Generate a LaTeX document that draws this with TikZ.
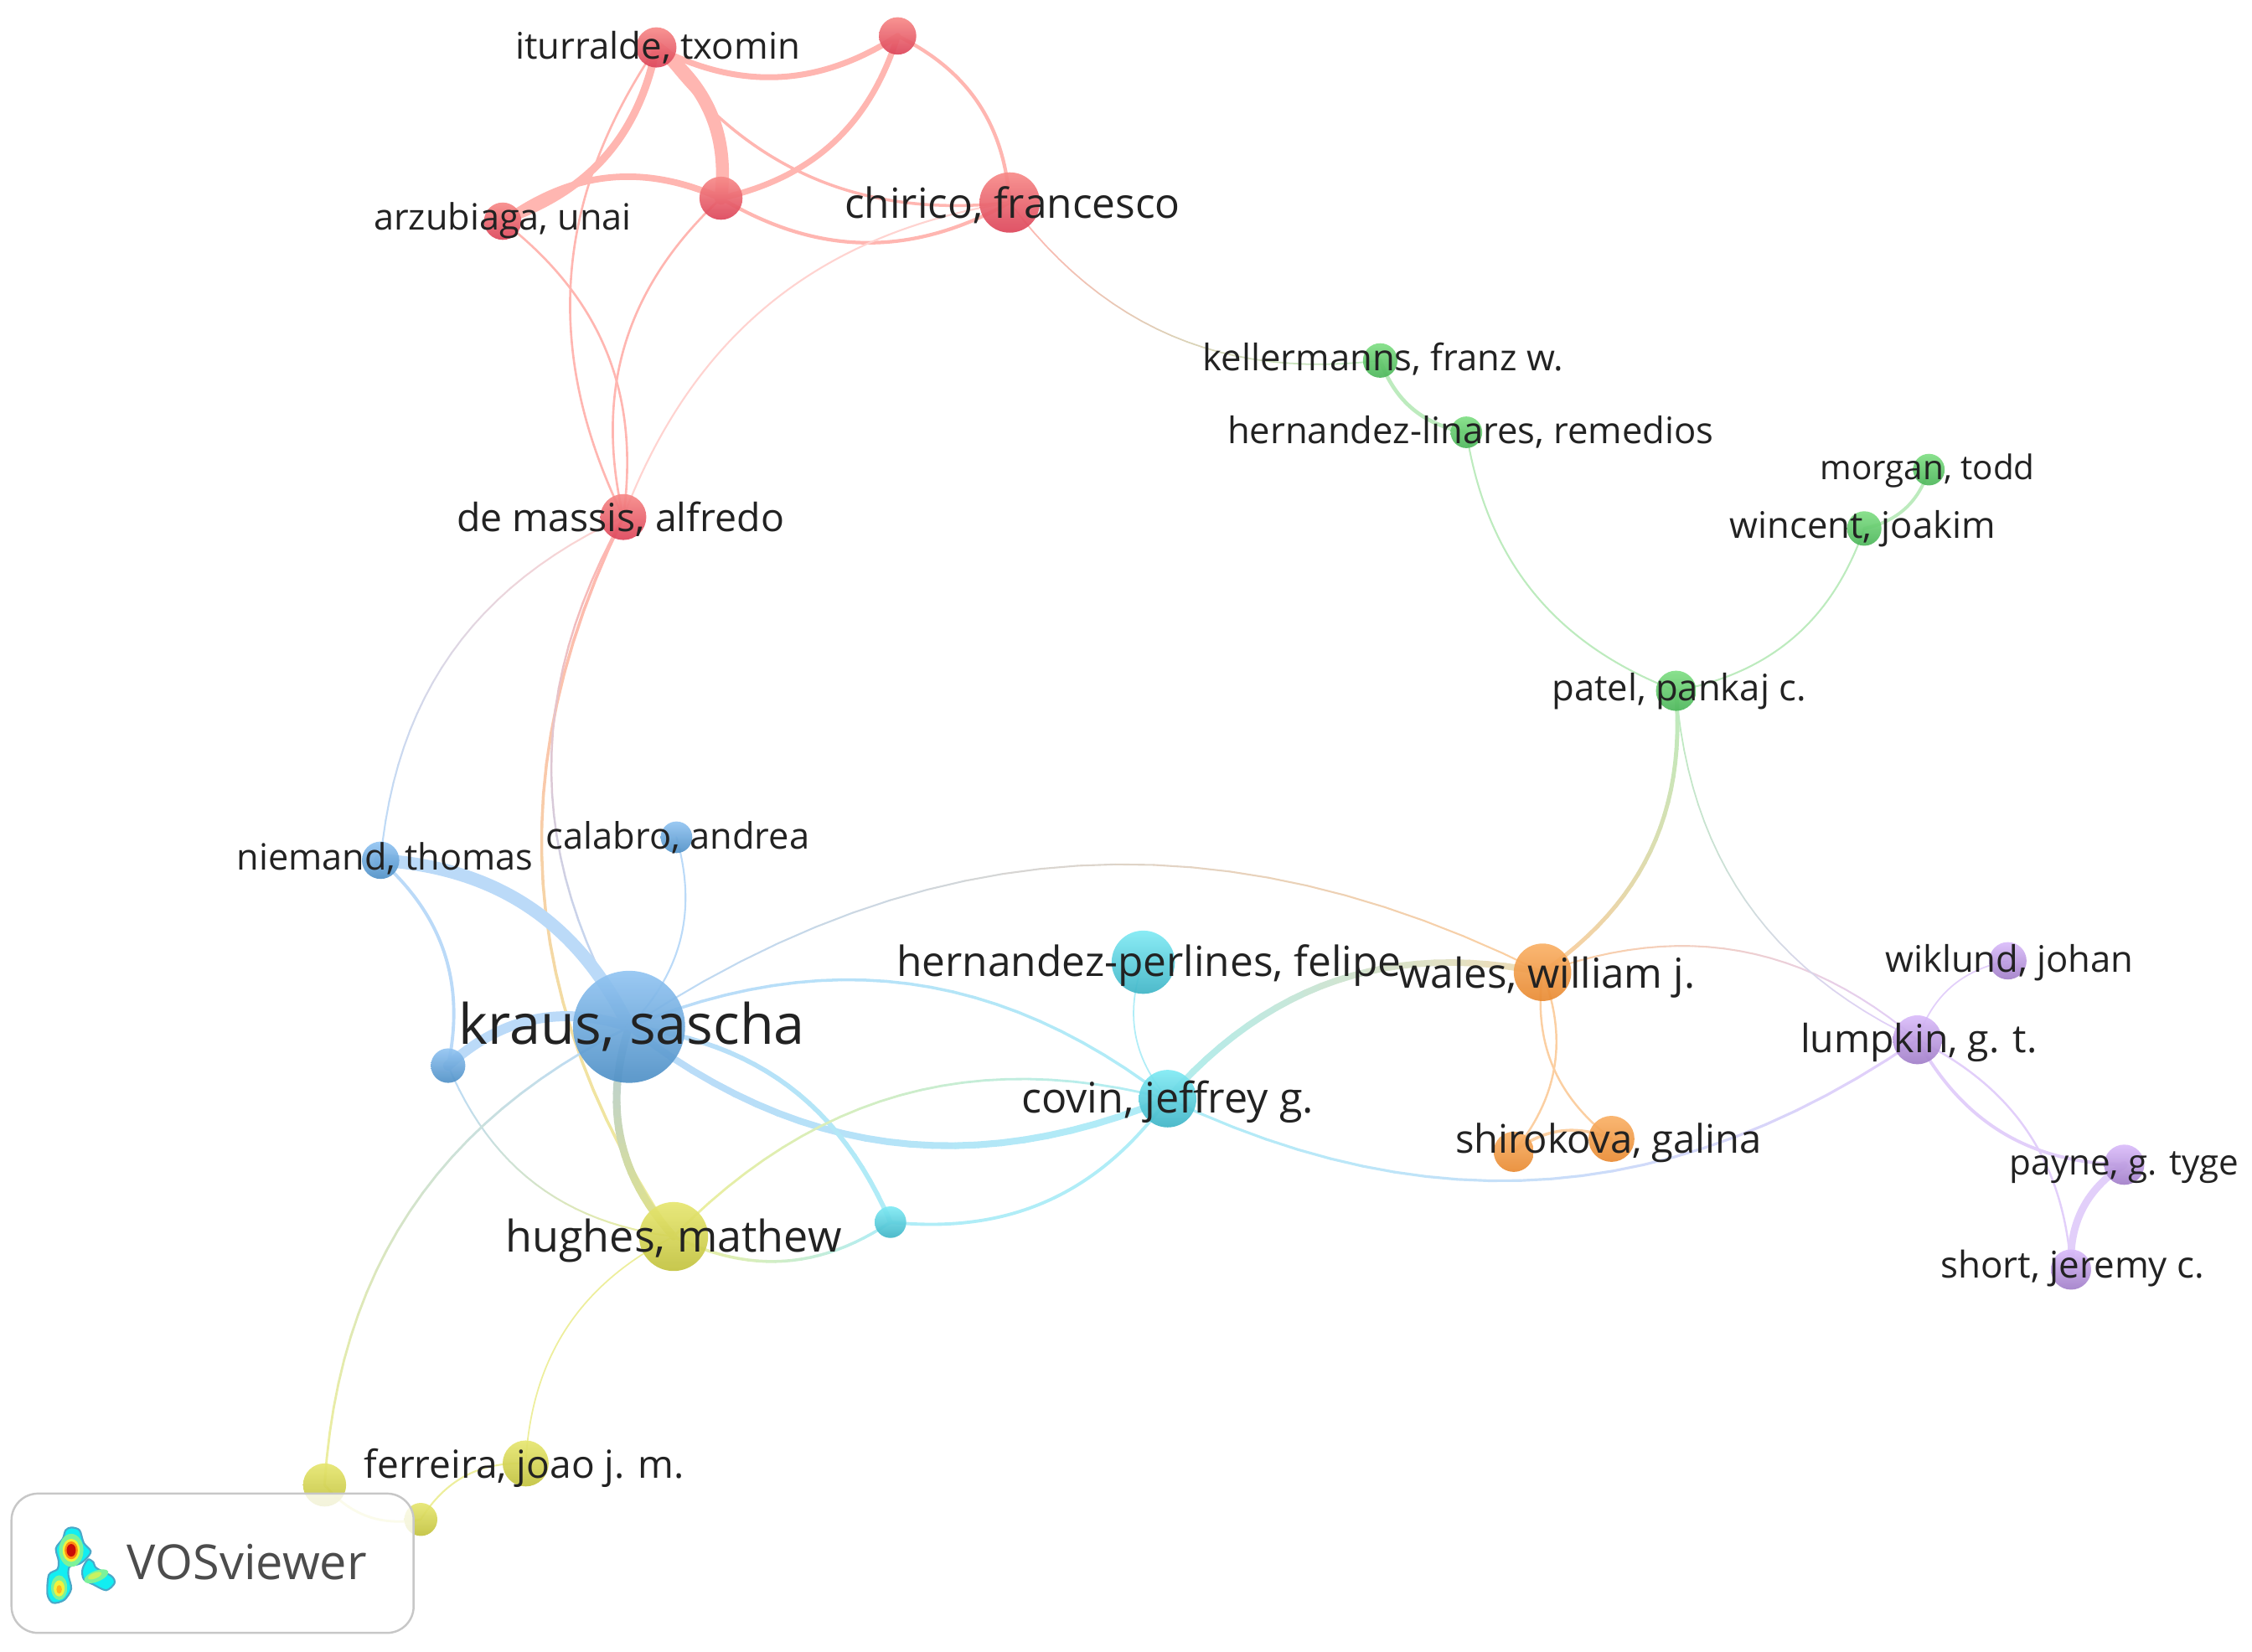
\documentclass[tikz,border=0pt]{standalone}
\usepackage{fontspec}
\usepackage{xcolor}
\setmainfont{Open Sans}
\usetikzlibrary{backgrounds}
\definecolor{RedTop}{HTML}{F78A88}
\definecolor{RedBot}{HTML}{DC4459}
\definecolor{GreenTop}{HTML}{80DE84}
\definecolor{GreenBot}{HTML}{4CB65A}
\definecolor{BlueTop}{HTML}{92C4F2}
\definecolor{BlueBot}{HTML}{4F90C6}
\definecolor{OliveTop}{HTML}{E6E670}
\definecolor{OliveBot}{HTML}{C2C23E}
\definecolor{CyanTop}{HTML}{80EAF4}
\definecolor{CyanBot}{HTML}{3EB4C6}
\definecolor{OrangeTop}{HTML}{F9B066}
\definecolor{OrangeBot}{HTML}{E88A32}
\definecolor{PurpleTop}{HTML}{DABCFA}
\definecolor{PurpleBot}{HTML}{A17EC8}
\definecolor{EdgeRed}{HTML}{FFB6B1}
\definecolor{EdgeRedPale}{HTML}{FFD3D0}
\definecolor{EdgeGreen}{HTML}{BDEBBE}
\definecolor{EdgeBlue}{HTML}{BBDAF8}
\definecolor{EdgeBlueDull}{HTML}{B4CEE0}
\definecolor{EdgeOlive}{HTML}{EDEE9C}
\definecolor{EdgeOliveDull}{HTML}{E2E286}
\definecolor{EdgeCyan}{HTML}{B0EDF7}
\definecolor{EdgeCyanDull}{HTML}{B0EDEE}
\definecolor{EdgeOrange}{HTML}{FBCFA2}
\definecolor{EdgeTan}{HTML}{EEDDB8}
\definecolor{EdgePurple}{HTML}{E2CFFA}
\definecolor{LabelInk}{HTML}{222222}
\definecolor{LogoEdge}{HTML}{4AA8C8}
\definecolor{LogoCyan}{HTML}{12EEF2}
\definecolor{LogoGreen}{HTML}{7CF29A}
\definecolor{LogoYellow}{HTML}{F2F23C}
\definecolor{LogoOrange}{HTML}{FF8A10}
\definecolor{LogoRed}{HTML}{C80C08}
\definecolor{LogoLime}{HTML}{C8F260}
\definecolor{LogoAmber}{HTML}{FFB41E}
\tikzset{
    vosnode/.style={circle, inner sep=0pt, fill opacity=0.92},
    rad/.style={minimum size={#1*0.034286cm}},
    rednode/.style={vosnode, top color=RedTop, bottom color=RedBot},
    greennode/.style={vosnode, top color=GreenTop, bottom color=GreenBot},
    bluenode/.style={vosnode, top color=BlueTop, bottom color=BlueBot},
    olivenode/.style={vosnode, top color=OliveTop, bottom color=OliveBot},
    cyannode/.style={vosnode, top color=CyanTop, bottom color=CyanBot},
    orangenode/.style={vosnode, top color=OrangeTop, bottom color=OrangeBot},
    purplenode/.style={vosnode, top color=PurpleTop, bottom color=PurpleBot},
    lab/.style={font=\fontsize{#1}{#1}\selectfont, text=LabelInk, inner sep=0pt, anchor=base},
    link/.style={line cap=round},
}
% link whose colour runs from one cluster to the other
\newcommand{\gradlink}[6]{%
    \foreach \st [evaluate=\st as \ta using \st/24, evaluate=\st as \tb using (\st+1)/24,
                  evaluate=\st as \mixp using 100-\st*100/23] in {0,...,23} {
        \path (#1.center) to[#3=30] coordinate[pos=\ta] (gradA) coordinate[pos=\tb] (gradB) (#2.center);
        \draw[link, #4!\mixp!#5, line width=#6] (gradA) -- (gradB);
    }%
}

\begin{document}
\begin{tikzpicture}[x=0.017143cm, y=-0.017143cm]
    \useasboundingbox (0,0) rectangle (1568,1149.75);

    \foreach \nm/\px/\py/\rr in {iturralde/457/33/14, topred/625/25/13, arzubiaga/350/154/13,
            midred/502/138/15, chirico/703/141/21, demassis/434/360/16}
        \node[rednode, rad=\rr] (\nm) at (\px,\py) {};
    \foreach \nm/\px/\py/\rr in {kellermanns/961/251/12, linares/1021/301/11, morgan/1343/327/11,
            wincent/1298/368/12, patel/1167/481/14}
        \node[greennode, rad=\rr] (\nm) at (\px,\py) {};
    \foreach \nm/\px/\py/\rr in {niemand/265/599/13, calabro/471/583/11, kraus/438/715/39,
            lowblue/312/742/12}
        \node[bluenode, rad=\rr] (\nm) at (\px,\py) {};
    \foreach \nm/\px/\py/\rr in {hughes/469/861/24, ferreira/366/1019/16, lowolive/226/1034/15,
            cornerolive/293/1058/11.5}
        \node[olivenode, rad=\rr] (\nm) at (\px,\py) {};
    \foreach \nm/\px/\py/\rr in {perlines/796/670/22, covin/813/765/20, lowcyan/620/851/11}
        \node[cyannode, rad=\rr] (\nm) at (\px,\py) {};
    \foreach \nm/\px/\py/\rr in {wales/1074/677/20, shirokova/1122/793/16, loworange/1054/802/14}
        \node[orangenode, rad=\rr] (\nm) at (\px,\py) {};
    \foreach \nm/\px/\py/\rr in {wiklund/1398/669/13, lumpkin/1335/724/17, payne/1479/811/14,
            short/1442/884/14}
        \node[purplenode, rad=\rr] (\nm) at (\px,\py) {};

    \begin{scope}[on background layer]
        % red cluster
        \draw[link, EdgeRed, line width=2pt] (iturralde.center) to[bend right=30] (topred.center);
        \draw[link, EdgeRed, line width=4.4pt] (iturralde.center) to[bend left=30] (midred.center);
        \draw[link, EdgeRed, line width=2.6pt] (iturralde.center) to[bend left=30] (arzubiaga.center);
        \draw[link, EdgeRed, line width=2.2pt] (arzubiaga.center) to[bend left=30] (midred.center);
        \draw[link, EdgeRed, line width=2pt] (topred.center) to[bend left=30] (midred.center);
        \draw[link, EdgeRed, line width=1.2pt] (topred.center) to[bend left=30] (chirico.center);
        \draw[link, EdgeRed, line width=1pt] (iturralde.center) to[bend right=30] (chirico.center);
        \draw[link, EdgeRed, line width=1.2pt] (midred.center) to[bend right=30] (chirico.center);
        \draw[link, EdgeRed, line width=0.75pt] (iturralde.center) to[bend right=30] (demassis.center);
        \draw[link, EdgeRed, line width=0.75pt] (arzubiaga.center) to[bend left=30] (demassis.center);
        \draw[link, EdgeRed, line width=0.75pt] (midred.center) to[bend right=30] (demassis.center);
        \draw[link, EdgeRedPale, line width=0.6pt] (chirico.center) to[bend right=30] (demassis.center);
        % across clusters, from the top
        \gradlink{chirico}{kellermanns}{bend right}{EdgeRed}{EdgeGreen}{0.5pt}
        \gradlink{demassis}{hughes}{bend right}{EdgeRed}{EdgeOlive}{1pt}
        \gradlink{demassis}{kraus}{bend right}{EdgeRed}{EdgeBlue}{0.7pt}
        \gradlink{demassis}{niemand}{bend right}{EdgeRedPale}{EdgeBlue}{0.6pt}
        % blue cluster
        \draw[link, EdgeBlue, line width=4.4pt] (niemand.center) to[bend left=30] (kraus.center);
        \draw[link, EdgeBlue, line width=1.1pt] (niemand.center) to[bend left=30] (lowblue.center);
        \draw[link, EdgeBlue, line width=0.6pt] (calabro.center) to[bend left=30] (kraus.center);
        \draw[link, EdgeBlue, line width=3.4pt] (lowblue.center) to[bend left=30] (kraus.center);
        \gradlink{lowblue}{hughes}{bend right}{EdgeBlue}{EdgeOlive}{0.6pt}
        \gradlink{kraus}{hughes}{bend right}{EdgeBlueDull}{EdgeOliveDull}{2.6pt}
        \gradlink{kraus}{wales}{bend left}{EdgeBlue}{EdgeOrange}{0.6pt}
        \gradlink{kraus}{covin}{bend left}{EdgeBlue}{EdgeCyan}{1pt}
        \gradlink{kraus}{covin}{bend right}{EdgeBlue}{EdgeCyan}{2.3pt}
        \gradlink{kraus}{lowcyan}{bend left}{EdgeBlue}{EdgeCyan}{1.6pt}
        \gradlink{kraus}{lowolive}{bend right}{EdgeBlue}{EdgeOlive}{0.8pt}
        % olive and cyan clusters
        \gradlink{hughes}{covin}{bend left}{EdgeOlive}{EdgeCyan}{0.8pt}
        \gradlink{hughes}{lowcyan}{bend right}{EdgeOlive}{EdgeCyan}{1pt}
        \draw[link, EdgeCyan, line width=1.1pt] (lowcyan.center) to[bend right=30] (covin.center);
        \draw[link, EdgeCyan, line width=0.5pt] (perlines.center) to[bend right=30] (covin.center);
        \draw[link, EdgeOlive, line width=0.5pt] (hughes.center) to[bend right=30] (ferreira.center);
        \draw[link, EdgeOlive, line width=0.6pt] (ferreira.center) to[bend right=30] (cornerolive.center);
        \draw[link, EdgeOlive, line width=0.8pt] (lowolive.center) to[bend right=30] (cornerolive.center);
        \gradlink{covin}{wales}{bend left}{EdgeCyanDull}{EdgeTan}{2.2pt}
        \gradlink{covin}{lumpkin}{bend right}{EdgeCyan}{EdgePurple}{0.9pt}
        % orange cluster
        \gradlink{wales}{patel}{bend right}{EdgeOrange}{EdgeGreen}{1.4pt}
        \gradlink{wales}{lumpkin}{bend left}{EdgeOrange}{EdgePurple}{0.6pt}
        \draw[link, EdgeOrange, line width=0.7pt] (wales.center) to[bend right=30] (shirokova.center);
        \draw[link, EdgeOrange, line width=0.7pt] (wales.center) to[bend left=30] (loworange.center);
        \draw[link, EdgeOrange, line width=1pt] (loworange.center) to[bend left=30] (shirokova.center);
        % green cluster
        \draw[link, EdgeGreen, line width=1.3pt] (kellermanns.center) to[bend right=30] (linares.center);
        \draw[link, EdgeGreen, line width=0.6pt] (linares.center) to[bend right=30] (patel.center);
        \draw[link, EdgeGreen, line width=1.1pt] (morgan.center) to[bend left=30] (wincent.center);
        \draw[link, EdgeGreen, line width=0.6pt] (wincent.center) to[bend left=30] (patel.center);
        \gradlink{patel}{lumpkin}{bend right}{EdgeGreen}{EdgePurple}{0.5pt}
        % purple cluster
        \draw[link, EdgePurple, line width=0.5pt] (wiklund.center) to[bend right=30] (lumpkin.center);
        \draw[link, EdgePurple, line width=1.1pt] (lumpkin.center) to[bend right=30] (payne.center);
        \draw[link, EdgePurple, line width=0.7pt] (lumpkin.center) to[bend left=30] (short.center);
        \draw[link, EdgePurple, line width=2.5pt] (payne.center) to[bend right=30] (short.center);
    \end{scope}

    \draw[draw=black!22, fill=white, fill opacity=0.8, line width=0.7pt, rounded corners=9pt]
        (8,1040) rectangle (288,1137);

    % logo
    \filldraw[LogoEdge, fill=LogoCyan, line width=0.6pt] plot[smooth cycle] coordinates {(49.6,1063.6) (55.4,1065.5)
        (58.3,1074.3) (63.2,1080.1) (60.3,1085) (55.4,1088.9) (48.6,1090.8) (47.6,1096.6) (49.6,1106.4) (44.7,1114.1)
        (36.9,1116.1) (33,1110.2) (34,1096.6) (39.9,1092.7) (40.8,1086.9) (38.9,1078.2) (43.7,1071.4) (45.7,1065.5)};
    \filldraw[LogoEdge, fill=LogoCyan, line width=0.6pt] plot[smooth cycle] coordinates {(61.2,1085.9) (65.1,1087.9)
        (67.1,1091.8) (77.8,1097.6) (79.7,1102.5) (73.9,1107.3) (65.1,1103.4) (58.3,1099.6) (57.4,1092.7)};
    \fill[LogoGreen] (49.6,1079.5) ellipse [x radius=8.5, y radius=11.5];
    \fill[LogoYellow] (49.6,1079.5) ellipse [x radius=6, y radius=8];
    \fill[LogoOrange] (49.6,1079.5) ellipse [x radius=4.6, y radius=6.2];
    \fill[LogoRed] (49.6,1079.5) ellipse [x radius=3.2, y radius=4.4];
    \fill[LogoGreen] (41.2,1105.5) ellipse [x radius=5.6, y radius=8.6];
    \fill[LogoYellow] (41.2,1106) ellipse [x radius=3.8, y radius=5.6];
    \fill[LogoAmber] (41.2,1106.7) ellipse [x radius=1.9, y radius=3];
    \fill[LogoGreen] (67,1097.6) ellipse [x radius=9, y radius=3.8, rotate=22];
    \fill[LogoLime] (66,1097.2) ellipse [x radius=5, y radius=2, rotate=22];

    \foreach \nm/\txt/\px/\py/\fs in {
            lbliturralde/{iturralde, txomin}/458/41/12.45,
            lblarzubiaga/{arzubiaga, unai}/350/160/12.3,
            lblchirico/{chirico, francesco}/705/152/14.1,
            lbldemassis/{de massis, alfredo}/432/370/13.2,
            lblkellermanns/{kellermanns, franz w.}/963/258/12.4,
            lbllinares/{hernandez-linares, remedios}/1024/309/12.4,
            lblmorgan/{morgan, todd}/1342/334/11.5,
            lblwincent/{wincent, joakim}/1297/375/12.4,
            lblpatel/{patel, pankaj c.}/1169/488/12.4,
            lblniemand/{niemand, thomas}/268/606/12.3,
            lblcalabro/{calabro, andrea}/472/591/12.35,
            lblkraus/{kraus, sascha}/440/727/18.9,
            lblperlines/{hernandez-perlines, felipe}/800/680/14.1,
            lblwales/{wales, william j.}/1077/688/14,
            lblwiklund/{wiklund, johan}/1399/677/12.4,
            lbllumpkin/{lumpkin, g. t.}/1336/733/13.2,
            lblcovin/{covin, jeffrey g.}/813/775/14.3,
            lblshirokova/{shirokova, galina}/1120/803/13.4,
            lblpayne/{payne, g. tyge}/1479/818/12,
            lblshort/{short, jeremy c.}/1443/890/12.5,
            lblhughes/{hughes, mathew}/469/872/14.8,
            lblferreira/{ferreira, joao j. m.}/365/1029/13.1}
        \node[lab=\fs] (\nm) at (\px,\py) {\txt};

    \node[lab=16.4, text=black!70] (vosviewer) at (172,1100) {VOSviewer};
\end{tikzpicture}
\end{document}
